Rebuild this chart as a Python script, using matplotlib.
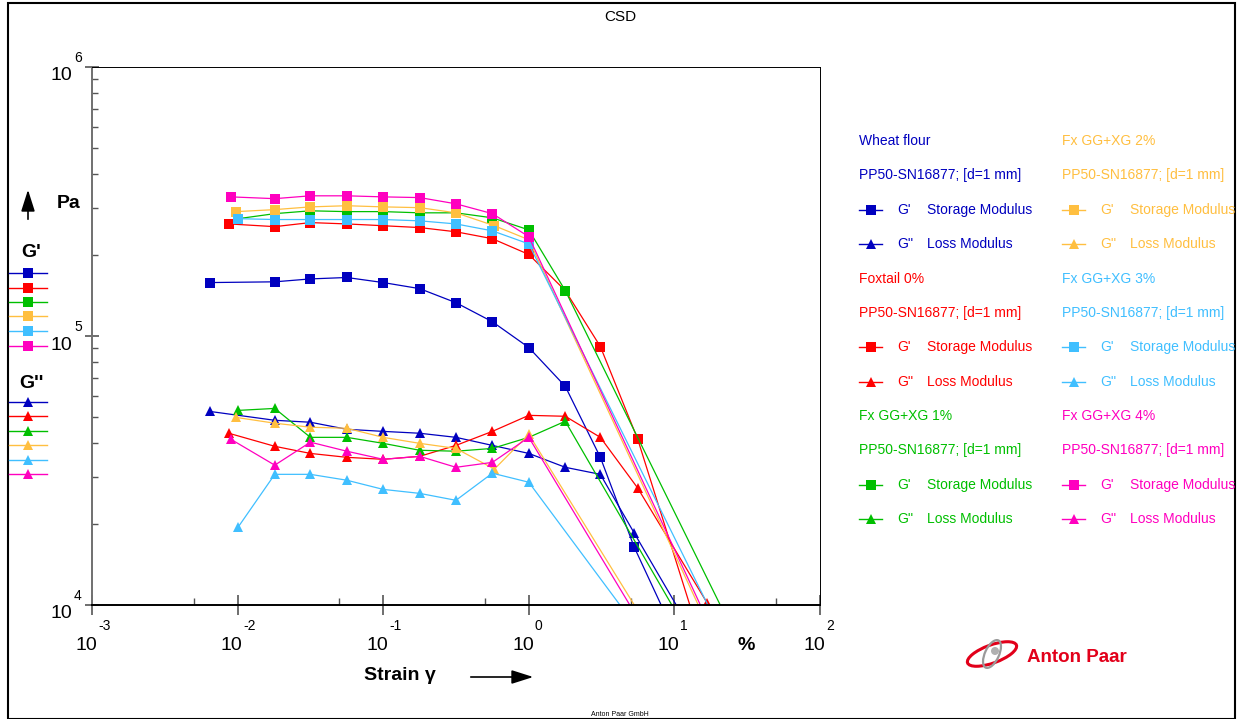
import numpy as np
import matplotlib
matplotlib.use("Agg")
import matplotlib.pyplot as plt
from matplotlib.lines import Line2D
from matplotlib.patches import Rectangle, Arc, Ellipse, FancyArrowPatch
from matplotlib.transforms import ScaledTranslation, blended_transform_factory
import matplotlib.ticker as mt

plt.rcParams['font.family'] = ['Liberation Sans', 'DejaVu Sans']

# ---------------- data (strain in %, moduli in Pa) ----------------
samples = ["Wheat flour", "Foxtail 0%", "Fx GG+XG 1%", "Fx GG+XG 2%", "Fx GG+XG 3%", "Fx GG+XG 4%"]
colors = ["#0000BF", "#FF0000", "#00BF00", "#FFBF40", "#40BFFF", "#FF00BF"]

wheat_strain = [0.0065, 0.018, 0.0316, 0.0562, 0.1, 0.178, 0.316, 0.562, 1.0, 1.78, 3.1, 5.3, 31.0]
wheat_Gp = [158000, 159000, 163000, 165000, 158000, 150000, 133000, 113000, 90600, 65000, 35400, 16400, 2100]
wheat_Gpp = [52400, 48600, 47800, 45000, 44200, 43500, 42000, 39200, 36600, 32500, 30600, 18500, 3600]

fox_strain_p = [0.0087, 0.018, 0.0316, 0.0562, 0.1, 0.178, 0.316, 0.562, 1.0, 1.78, 3.1, 5.6, 31.0]
fox_Gp = [261000, 255000, 264000, 261000, 257000, 253000, 244000, 230000, 201000, 147500, 91400, 41300, 2170]
fox_strain_pp = [0.0087, 0.018, 0.0316, 0.0562, 0.1, 0.178, 0.316, 0.562, 1.0, 1.78, 3.1, 5.6, 16.8, 17.0]
fox_Gpp = [43500, 38900, 36600, 35400, 34800, 35700, 39200, 44200, 50700, 50300, 42000, 27200, 10170, 2000]

gx1_strain = [0.0101, 0.018, 0.0316, 0.0562, 0.1, 0.178, 0.316, 0.562, 1.0, 1.78, 31.0]
gx1_Gp = [273000, 285000, 292000, 290000, 290000, 287000, 287000, 275000, 248000, 147500, 6400]
gx1_Gpp = [52900, 53800, 42000, 42000, 39900, 37600, 37300, 38200, 42000, 48200, 3350]

gx2_strain = [0.0098, 0.018, 0.0316, 0.0562, 0.1, 0.178, 0.316, 0.58, 1.0, 31.0]
gx2_Gp = [290000, 295000, 302000, 305000, 302000, 300000, 287000, 257000, 228000, 4150]
gx2_Gpp = [49800, 47400, 45800, 45400, 42000, 39900, 38200, 32000, 43100, 2130]

gx3_strain = [0.0101, 0.018, 0.0316, 0.0562, 0.1, 0.178, 0.316, 0.562, 1.0, 31.0]
gx3_Gp = [273000, 271000, 271000, 271000, 271000, 268000, 261000, 246000, 220000, 5180]
gx3_Gpp = [19500, 30600, 30600, 29100, 26900, 26000, 24500, 30900, 28600, 2340]

gx4_strain = [0.009, 0.018, 0.0316, 0.0562, 0.1, 0.178, 0.316, 0.562, 1.0, 31.0]
gx4_Gp = [329000, 324000, 332000, 332000, 329000, 327000, 310000, 285000, 234000, 4330]
gx4_Gpp = [41300, 33100, 40300, 37300, 34800, 35700, 32500, 33900, 42000, 1920]

series = [
    (wheat_strain, wheat_Gp, wheat_strain, wheat_Gpp),
    (fox_strain_p, fox_Gp, fox_strain_pp, fox_Gpp),
    (gx1_strain, gx1_Gp, gx1_strain, gx1_Gpp),
    (gx2_strain, gx2_Gp, gx2_strain, gx2_Gpp),
    (gx3_strain, gx3_Gp, gx3_strain, gx3_Gpp),
    (gx4_strain, gx4_Gp, gx4_strain, gx4_Gpp),
]

x_exps = [-3, -2, -1, 0, 1, 2]
y_exps = [4, 5, 6]
geometry = "PP50-SN16877; [d=1 mm]"

# ---------------- figure ----------------
W, H = 1237, 719
fig = plt.figure(figsize=(W / 100, H / 100), dpi=100)

def fx(x):
    return x / W

def fy(y):
    return 1 - y / H

ax = fig.add_axes([fx(92), fy(605), (820 - 92) / W, (605 - 67) / H])
ax.set_xscale('log')
ax.set_yscale('log')
ax.set_xlim(1e-3, 1e2)
ax.set_ylim(1e4, 1e6)

for (sp, gp, spp, gpp), c in zip(series, colors):
    ax.plot(sp, gp, color=c, lw=0.9, marker='s', ms=7.2, mew=0)
    ax.plot(spp, gpp, color=c, lw=0.9, marker='^', ms=7.8, mew=0)

ax.xaxis.set_major_locator(mt.LogLocator(base=10, numticks=10))
ax.xaxis.set_minor_locator(mt.LogLocator(base=10, subs=[5.0], numticks=10))
ax.yaxis.set_major_locator(mt.LogLocator(base=10, numticks=10))
ax.yaxis.set_minor_locator(mt.LogLocator(base=10, subs=np.arange(2, 10), numticks=10))
ax.xaxis.set_major_formatter(mt.NullFormatter())
ax.xaxis.set_minor_formatter(mt.NullFormatter())
ax.yaxis.set_major_formatter(mt.NullFormatter())
ax.yaxis.set_minor_formatter(mt.NullFormatter())
ax.tick_params(axis='x', which='major', direction='inout', length=14, width=1.2, color='#555555')
ax.tick_params(axis='x', which='minor', direction='in', length=5, width=1.0, color='#555555')
ax.tick_params(axis='y', which='major', direction='inout', length=10, width=1.2, color='#555555')
ax.tick_params(axis='y', which='minor', direction='in', length=4, width=1.0, color='#555555')

ax.spines['left'].set_color('#707070')
ax.spines['left'].set_linewidth(1.4)
ax.spines['bottom'].set_color('black')
ax.spines['bottom'].set_linewidth(1.4)
for s in ['top', 'right']:
    ax.spines[s].set_color('black')
    ax.spines[s].set_linewidth(0.7)

def off(dx, dy):
    return ScaledTranslation(dx / 100, dy / 100, fig.dpi_scale_trans)

tx = blended_transform_factory(ax.transData, ax.transAxes)
for e in x_exps:
    ax.text(10.0 ** e, 0, "10", transform=tx + off(5, -41), ha='right', va='center', fontsize=14)
    ax.text(10.0 ** e, 0, str(e), transform=tx + off(6, -21), ha='left', va='center', fontsize=10)

ty = blended_transform_factory(ax.transAxes, ax.transData)
for e in y_exps:
    ax.text(0, 10.0 ** e, "10", transform=ty + off(-20, -9), ha='right', va='center', fontsize=14)
    ax.text(0, 10.0 ** e, str(e), transform=ty + off(-18, 9), ha='left', va='center', fontsize=10)

# axis annotations
fig.text(fx(400), fy(676), "Strain \u03b3", ha='center', va='center', fontsize=14, fontweight='bold')
fig.add_artist(FancyArrowPatch((fx(468), fy(677)), (fx(536), fy(677)), transform=fig.transFigure,
                               arrowstyle='-|>,head_length=1.1,head_width=0.35', mutation_scale=12,
                               color='black', lw=1.2))
fig.text(fx(746), fy(646), "%", ha='center', va='center', fontsize=14, fontweight='bold')
fig.text(fx(69), fy(203), "Pa", ha='center', va='center', fontsize=14, fontweight='bold')
fig.add_artist(FancyArrowPatch((fx(28), fy(222)), (fx(28), fy(187)), transform=fig.transFigure,
                               arrowstyle='-|>,head_length=1.1,head_width=0.35', mutation_scale=12,
                               color='black', lw=1.2))
fig.text(fx(31), fy(253), "G'", ha='center', va='center', fontsize=14, fontweight='bold')
fig.text(fx(31), fy(383), "G''", ha='center', va='center', fontsize=14, fontweight='bold')

# left mini legend
gp_rows = [273, 288, 302, 316, 331, 346]
gpp_rows = [402, 416, 431, 445, 460, 474]
for c, r1, r2 in zip(colors, gp_rows, gpp_rows):
    for r, m in ((r1, 's'), (r2, '^')):
        fig.add_artist(Line2D([fx(9), fx(47)], [fy(r), fy(r)], color=c, lw=1.0))
        fig.add_artist(Line2D([fx(28)], [fy(r)], color=c, marker=m, ms=7.2 if m == 's' else 7.8, mew=0))

# right legend
col_x = [859, 1062]
row_y = [141, 175, 210, 244, 279, 313, 347, 382, 416, 450, 485, 519]
for i, (name, c) in enumerate(zip(samples, colors)):
    col = i // 3
    r0 = (i % 3) * 4
    x0 = col_x[col]
    fig.text(fx(x0), fy(row_y[r0]), name, color=c, fontsize=10, ha='left', va='center')
    fig.text(fx(x0), fy(row_y[r0 + 1]), geometry, color=c, fontsize=10, ha='left', va='center')
    for k, (m, sym, desc) in enumerate((('s', "G'", "Storage Modulus"), ('^', "G''", "Loss Modulus"))):
        yy = row_y[r0 + 2 + k]
        fig.add_artist(Line2D([fx(x0), fx(x0 + 23)], [fy(yy), fy(yy)], color=c, lw=1.0))
        fig.add_artist(Line2D([fx(x0 + 11.5)], [fy(yy)], color=c, marker=m, ms=7.2 if m == 's' else 7.8, mew=0))
        fig.text(fx(x0 + 38), fy(yy), sym, color=c, fontsize=10, ha='left', va='center')
        fig.text(fx(x0 + 68), fy(yy), desc, color=c, fontsize=10, ha='left', va='center')

# title and footer
fig.text(fx(620), fy(17), "CSD", ha='center', va='center', fontsize=11)
fig.text(fx(620), fy(715), "Anton Paar GmbH", ha='center', va='center', fontsize=5)

# Anton Paar logo
ap_red = "#E2001A"
fig.text(fx(1027), fy(657), "Anton Paar", color=ap_red, fontsize=13.5, fontweight='bold', ha='left', va='center')
lax = fig.add_axes([fx(962), fy(676), 60 / W, 46 / H])
lax.set_xlim(0, 60)
lax.set_ylim(0, 46)
lax.axis('off')
lax.add_patch(Ellipse((30, 22), 52, 18, angle=20, fill=False, ec=ap_red, lw=2.2))
lax.add_patch(Ellipse((30, 22), 14, 30, angle=-25, fill=False, ec='#9a9a9a', lw=1.6))
lax.add_patch(Ellipse((33, 25), 8, 8, fc='#b0b0b0', ec='none'))

# outer frame
fig.add_artist(Rectangle((fx(8), fy(719)), fx(1235) - fx(8), fy(3) - fy(719), transform=fig.transFigure,
                         fill=False, ec='black', lw=1.5))

fig.savefig("out.png", dpi=100)
